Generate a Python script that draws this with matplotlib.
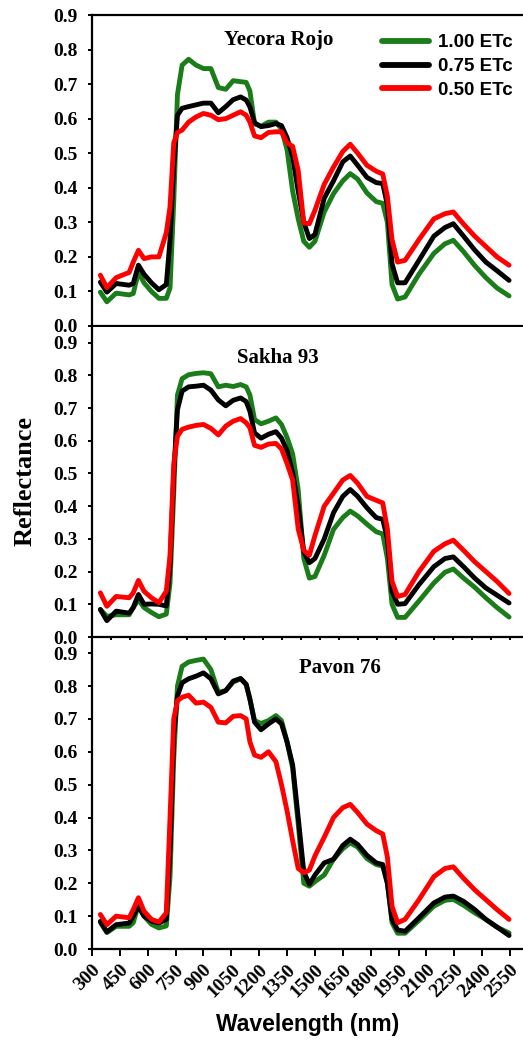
import numpy as np
import matplotlib.pyplot as plt

# wavelength grid (nm) shared by all curves
wavelength = [345, 380, 430, 500, 522, 550, 580, 620, 660, 700,
              720, 740, 760, 785, 820, 860, 900, 940, 980, 1020,
              1060, 1100, 1130, 1150, 1175, 1210, 1250, 1290, 1320, 1350,
              1380, 1410, 1440, 1470, 1500, 1550, 1600, 1650, 1690, 1730,
              1780, 1830, 1865, 1890, 1915, 1945, 1985, 2060, 2140, 2200,
              2245, 2300, 2360, 2420, 2480, 2545]

# Yecora Rojo
yr_100 = [0.098, 0.07, 0.095, 0.09, 0.094, 0.156, 0.125, 0.10, 0.08, 0.08,
          0.11, 0.36, 0.67, 0.755, 0.772, 0.755, 0.745, 0.745, 0.69, 0.685,
          0.71, 0.707, 0.705, 0.68, 0.585, 0.578, 0.59, 0.59, 0.57, 0.51,
          0.39, 0.31, 0.245, 0.228, 0.245, 0.33, 0.383, 0.42, 0.441, 0.425,
          0.385, 0.36, 0.355, 0.30, 0.12, 0.078, 0.084, 0.15, 0.21, 0.238,
          0.248, 0.215, 0.175, 0.14, 0.11, 0.087]
yr_075 = [0.127, 0.098, 0.123, 0.118, 0.123, 0.176, 0.15, 0.125, 0.105, 0.12,
          0.25, 0.46, 0.61, 0.63, 0.635, 0.64, 0.645, 0.645, 0.617, 0.635,
          0.655, 0.663, 0.654, 0.634, 0.588, 0.577, 0.58, 0.586, 0.58, 0.545,
          0.49, 0.39, 0.30, 0.253, 0.265, 0.37, 0.42, 0.475, 0.492, 0.465,
          0.43, 0.415, 0.412, 0.35, 0.18, 0.125, 0.125, 0.19, 0.26, 0.285,
          0.296, 0.26, 0.22, 0.185, 0.16, 0.132]
yr_050 = [0.147, 0.111, 0.14, 0.155, 0.185, 0.219, 0.195, 0.2, 0.2, 0.27,
          0.345, 0.53, 0.56, 0.567, 0.59, 0.605, 0.615, 0.61, 0.597, 0.6,
          0.61, 0.62, 0.61, 0.59, 0.55, 0.545, 0.56, 0.562, 0.562, 0.53,
          0.52, 0.45, 0.298, 0.296, 0.335, 0.41, 0.46, 0.505, 0.526, 0.5,
          0.465, 0.448, 0.44, 0.375, 0.25, 0.185, 0.19, 0.25, 0.31, 0.325,
          0.33, 0.295, 0.26, 0.23, 0.2, 0.176]

# Sakha 93
s93_100 = [0.084, 0.063, 0.068, 0.068, 0.09, 0.114, 0.09, 0.075, 0.062, 0.07,
           0.165, 0.44, 0.74, 0.79, 0.802, 0.806, 0.808, 0.805, 0.765, 0.77,
           0.766, 0.772, 0.765, 0.74, 0.665, 0.652, 0.66, 0.67, 0.65, 0.61,
           0.56, 0.45, 0.24, 0.18, 0.185, 0.25, 0.329, 0.365, 0.385, 0.37,
           0.345, 0.322, 0.315, 0.24, 0.1, 0.06, 0.06, 0.11, 0.165, 0.198,
           0.208, 0.18, 0.152, 0.12, 0.09, 0.061]
s93_075 = [0.084, 0.05, 0.079, 0.073, 0.09, 0.13, 0.1, 0.101, 0.1, 0.095,
           0.22, 0.5, 0.695, 0.752, 0.765, 0.767, 0.77, 0.755, 0.725, 0.707,
           0.724, 0.731, 0.72, 0.69, 0.624, 0.608, 0.62, 0.628, 0.608, 0.57,
           0.502, 0.4, 0.26, 0.227, 0.24, 0.3, 0.38, 0.43, 0.451, 0.43,
           0.395, 0.365, 0.36, 0.3, 0.14, 0.1, 0.102, 0.16, 0.215, 0.24,
           0.245, 0.215, 0.18, 0.15, 0.128, 0.104]
s93_050 = [0.135, 0.094, 0.124, 0.12, 0.135, 0.173, 0.14, 0.12, 0.105, 0.14,
           0.25, 0.53, 0.614, 0.635, 0.642, 0.647, 0.65, 0.638, 0.618, 0.645,
           0.66, 0.668, 0.655, 0.64, 0.586, 0.58, 0.59, 0.592, 0.575, 0.53,
           0.48, 0.33, 0.265, 0.25, 0.31, 0.4, 0.44, 0.48, 0.494, 0.47,
           0.43, 0.418, 0.41, 0.33, 0.17, 0.124, 0.13, 0.2, 0.262, 0.285,
           0.296, 0.265, 0.23, 0.2, 0.17, 0.133]

# Pavon 76
p76_100 = [0.081, 0.05, 0.069, 0.069, 0.08, 0.135, 0.1, 0.075, 0.064, 0.07,
           0.22, 0.58, 0.8, 0.86, 0.873, 0.878, 0.882, 0.85, 0.781, 0.786,
           0.812, 0.822, 0.805, 0.76, 0.695, 0.686, 0.695, 0.71, 0.695, 0.63,
           0.55, 0.38, 0.2, 0.191, 0.205, 0.225, 0.273, 0.305, 0.323, 0.31,
           0.275, 0.257, 0.252, 0.2, 0.08, 0.048, 0.048, 0.087, 0.13, 0.148,
           0.151, 0.133, 0.11, 0.09, 0.066, 0.049]
p76_075 = [0.084, 0.052, 0.074, 0.079, 0.1, 0.13, 0.1, 0.085, 0.079, 0.09,
           0.3, 0.65, 0.77, 0.81, 0.822, 0.83, 0.84, 0.822, 0.776, 0.786,
           0.815, 0.823, 0.805, 0.76, 0.69, 0.667, 0.685, 0.7, 0.685, 0.63,
           0.56, 0.4, 0.235, 0.197, 0.225, 0.262, 0.273, 0.315, 0.334, 0.318,
           0.285, 0.262, 0.257, 0.2, 0.09, 0.058, 0.054, 0.095, 0.14, 0.158,
           0.161, 0.145, 0.12, 0.09, 0.067, 0.041]
p76_050 = [0.105, 0.074, 0.1, 0.095, 0.12, 0.156, 0.115, 0.09, 0.082, 0.11,
           0.4, 0.7, 0.755, 0.766, 0.772, 0.748, 0.751, 0.735, 0.69, 0.688,
           0.708, 0.71, 0.7, 0.63, 0.59, 0.583, 0.6, 0.57, 0.5, 0.42,
           0.33, 0.245, 0.232, 0.24, 0.283, 0.34, 0.4, 0.43, 0.44, 0.415,
           0.38, 0.36, 0.35, 0.28, 0.13, 0.08, 0.09, 0.15, 0.22, 0.245,
           0.25, 0.215, 0.18, 0.15, 0.12, 0.09]

labels = ["1.00 ETc", "0.75 ETc", "0.50 ETc"]
colors = ["#1a7d1a", "black", "red"]
x_ticks = list(range(300, 2551, 150))
y_ticks = [0.0, 0.1, 0.2, 0.3, 0.4, 0.5, 0.6, 0.7, 0.8, 0.9]

panels = [
    ("Yecora Rojo", [yr_100, yr_075, yr_050]),
    ("Sakha 93", [s93_100, s93_075, s93_050]),
    ("Pavon 76", [p76_100, p76_075, p76_050]),
]

serif = "Liberation Serif"
sans = "Liberation Sans"

fig = plt.figure(figsize=(5.23, 10.4), dpi=100)
W, H = 523, 1040
# pixel boxes: (top, bottom)
boxes = [(15, 326), (327, 637), (640, 949)]
ytops = [0.9, 0.948, 0.94]
title_pos = [(0.432, 0.92), (0.432, 0.9), (0.575, 0.91)]
left, right = 92, 523

for i, (name, series) in enumerate(panels):
    top, bot = boxes[i]
    ax = fig.add_axes([left / W, 1 - bot / H, (right - left) / W, (bot - top) / H])
    for vals, lab, col in zip(series, labels, colors):
        ax.plot(wavelength, vals, color=col, lw=3.5, label=lab,
                solid_joinstyle="round", solid_capstyle="round")
    ax.set_xlim(300, 300 + (right - left) / 418 * 2250)
    ax.set_ylim(0, ytops[i])
    ax.set_yticks(y_ticks)
    ax.set_yticklabels([f"{v:.1f}" for v in y_ticks], fontfamily=serif,
                       fontweight="bold", fontsize=14)
    ax.spines["right"].set_visible(False)
    if i > 0:
        ax.spines["top"].set_visible(False)
    for s in ax.spines.values():
        s.set_linewidth(1.6)
    ax.tick_params(axis="y", direction="out", length=3, width=1.4, pad=7)
    ax.tick_params(axis="x", direction="out", length=5, width=1.4)
    if i < 2:
        ax.set_xticks(np.linspace(300, 2550, 23))
        ax.set_xticklabels([])
    else:
        ax.set_xticks(x_ticks)
        ax.set_xticklabels([str(t) for t in x_ticks], rotation=45, ha="right",
                           rotation_mode="anchor", fontfamily=serif,
                           fontweight="bold", fontsize=14)
    ax.text(title_pos[i][0], title_pos[i][1], name, transform=ax.transAxes,
            ha="center", va="center", fontfamily=serif, fontweight="bold",
            fontsize=15)
    if i == 0:
        leg = ax.legend(loc="upper left", bbox_to_anchor=(0.655, 0.962), frameon=False,
                        handlelength=2.5, handletextpad=0.5, labelspacing=0.35,
                        borderaxespad=0,
                        prop={"family": sans, "weight": "bold", "size": 13.5})
        for line in leg.get_lines():
            line.set_linewidth(4.2)

fig.text(25 / W, 1 - 481 / H, "Reflectance", rotation=90, ha="center", va="center",
         fontfamily=serif, fontweight="bold", fontsize=19)
fig.text(308 / W, 1 - 1025 / H, "Wavelength (nm)", ha="center", va="center",
         fontfamily=sans, fontweight="bold", fontsize=16.5)

fig.savefig("out.png", dpi=100)
